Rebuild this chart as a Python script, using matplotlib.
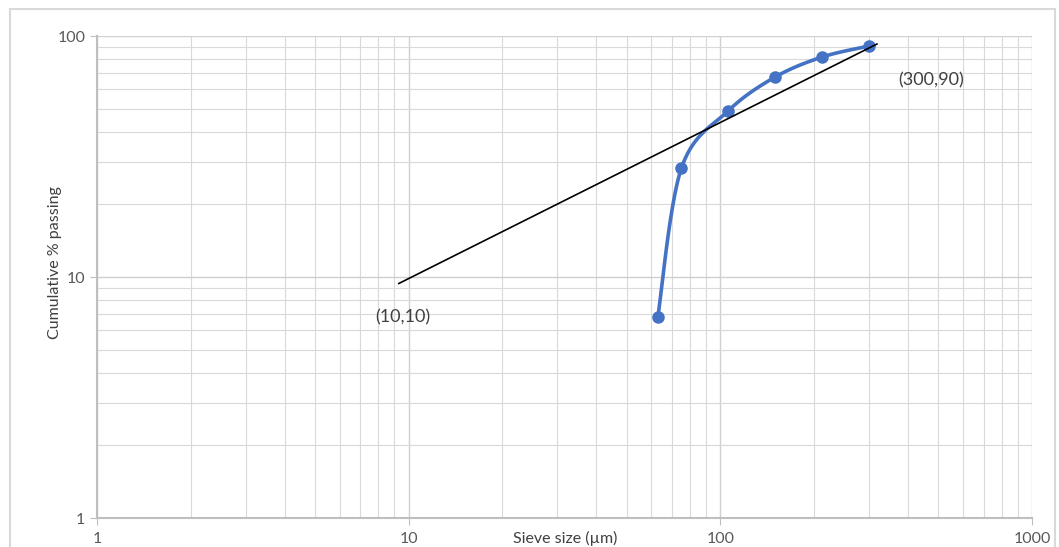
import matplotlib.pyplot as plt
import matplotlib.patches as mpatches
import numpy as np

# sieve data
sieve_size = [63, 75, 106, 150, 212, 300]
cum_passing = [6.8, 28.3, 48.9, 67.6, 81.8, 90.9]

# straight reference line and its labels
line_x = [9.3, 318]
line_y = [9.4, 92.6]
label_pts = [(10, 10), (300, 90)]

blue = '#4472C4'
grid_col = '#d9d9d9'
text_col = '#595959'

W, H = 1059, 547


def catmull_rom(xs, ys, n=40):
    # smooth line through the points, done in log space like excel
    px = np.log10(xs)
    py = np.log10(ys)
    pts = np.column_stack([px, py])
    pts = np.vstack([pts[0], pts, pts[-1]])
    out = []
    for i in range(1, len(pts) - 2):
        p0, p1, p2, p3 = pts[i - 1], pts[i], pts[i + 1], pts[i + 2]
        t = np.linspace(0, 1, n)[:, None]
        c = 0.5 * ((2 * p1) + (-p0 + p2) * t + (2 * p0 - 5 * p1 + 4 * p2 - p3) * t ** 2
                   + (-p0 + 3 * p1 - 3 * p2 + p3) * t ** 3)
        out.append(c)
    out = np.vstack(out)
    return 10 ** out[:, 0], 10 ** out[:, 1]


plt.rcParams['font.family'] = ['Lato', 'DejaVu Sans']

fig = plt.figure(figsize=(W / 100, H / 100), dpi=100)
ax = fig.add_axes([97 / W, 1 - 518 / H, (1032 - 97) / W, (518 - 36) / H])

fig.patches.append(mpatches.Rectangle((10 / W, -0.05), 1045 / W, 1.05 - 9 / H,
                                      transform=fig.transFigure, fill=False,
                                      edgecolor='#d9d9d9', linewidth=1.5))

ax.set_xscale('log')
ax.set_yscale('log')
ax.set_xlim(1, 1000)
ax.set_ylim(1, 100)

ax.grid(which='major', color='#d0d0d0', linewidth=1.0)
ax.grid(which='minor', color=grid_col, linewidth=0.8)
ax.set_axisbelow(True)

sx, sy = catmull_rom(sieve_size, cum_passing)
ax.plot(sx, sy, color=blue, linewidth=2.6, zorder=3)
ax.plot(sieve_size, cum_passing, 'o', color=blue, markersize=8, zorder=4)
ax.plot(line_x, line_y, color='black', linewidth=1.2, zorder=5)

fig.text(403 / W, 1 - 317 / H, '(%d,%d)' % label_pts[0], fontsize=13, color='#404040',
         ha='center', va='center')
fig.text(931 / W, 1 - 80 / H, '(%d,%d)' % label_pts[1], fontsize=13, color='#404040',
         ha='center', va='center')

for s in ['top', 'right']:
    ax.spines[s].set_visible(False)
for s in ['left', 'bottom']:
    ax.spines[s].set_color('#bfbfbf')
    ax.spines[s].set_linewidth(1.5)

ax.set_xticks([1, 10, 100, 1000])
ax.set_xticklabels(['1', '10', '100', '1000'])
ax.set_yticks([1, 10, 100])
ax.set_yticklabels(['1', '10', '100'])
ax.tick_params(which='minor', length=0)
ax.tick_params(which='major', length=5, color='#bfbfbf', labelsize=11.5, labelcolor=text_col)
ax.tick_params(axis='x', pad=5)

ax.set_ylabel('Cumulative % passing', fontsize=11.5, color='#404040')
ax.yaxis.set_label_coords((62 - 97) / (1032 - 97), 0.53)
fig.text(565 / W, 1 - 538 / H, 'Sieve size (µm)', fontsize=11.5, color='#404040',
         ha='center', va='center')

fig.savefig('out.png', dpi=100)
